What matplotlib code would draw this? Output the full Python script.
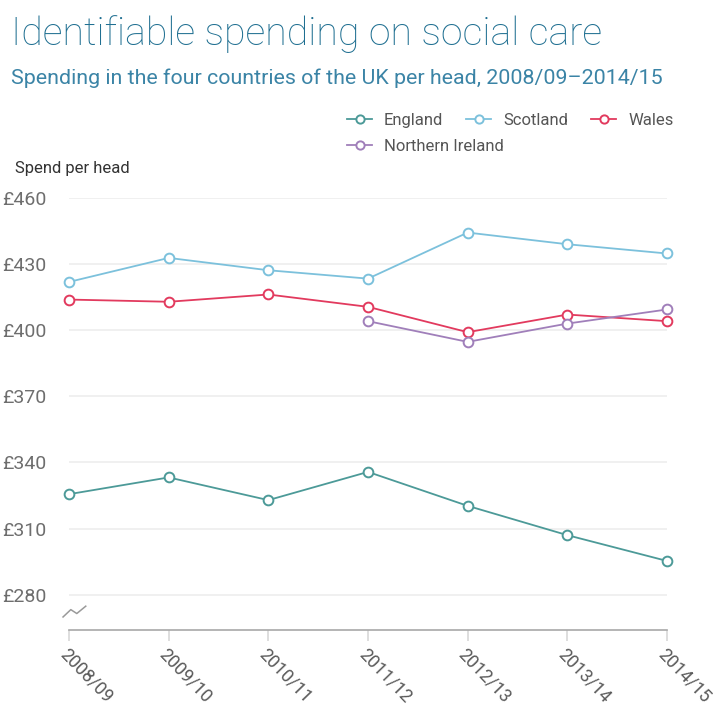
import matplotlib
matplotlib.use("Agg")
import matplotlib.pyplot as plt

plt.rcParams["font.family"] = ["Roboto", "DejaVu Sans"]

years = ["2008/09", "2009/10", "2010/11", "2011/12", "2012/13", "2013/14", "2014/15"]

england = [325.6, 333.2, 322.9, 335.7, 320.3, 307.0, 295.3]
scotland = [421.9, 432.8, 427.2, 423.4, 444.3, 439.0, 434.8]
wales = [413.9, 412.9, 416.2, 410.6, 399.1, 407.1, 404.1]
# Northern Ireland only reported from 2011/12
ni_years = ["2011/12", "2012/13", "2013/14", "2014/15"]
northern_ireland = [404.1, 394.7, 403.0, 409.4]

y_ticks = [280, 310, 340, 370, 400, 430, 460]

series = [
    ("England", years, england, "#4c9a98"),
    ("Scotland", years, scotland, "#7cc1dc"),
    ("Wales", years, wales, "#e23a5e"),
    ("Northern Ireland", ni_years, northern_ireland, "#a07fba"),
]

fig = plt.figure(figsize=(7.13, 7.07), dpi=100)
ax = fig.add_axes([0.0968, 0.109, 0.8387, 0.611])

xpos = {y: i for i, y in enumerate(years)}
handles = {}
for name, xs, vals, col in series:
    h, = ax.plot([xpos[x] for x in xs], vals, color=col, lw=1.3,
                 marker="o", ms=7, mfc="white", mec=col, mew=1.4,
                 label=name, clip_on=False, zorder=3)
    handles[name] = h

ax.set_xlim(0, 6)
ax.set_ylim(264, 460)
ax.set_yticks(y_ticks)
ax.set_yticklabels([f"£{v}" for v in y_ticks])
ax.set_xticks(range(len(years)))
ax.set_xticklabels(years, rotation=-46, ha="left", va="top",
                   rotation_mode="anchor")

ax.grid(axis="y", color="#ececec", lw=1.1)
ax.set_axisbelow(True)
for s in ["top", "right", "left"]:
    ax.spines[s].set_visible(False)
ax.spines["bottom"].set_color("#a8a8a8")
ax.spines["bottom"].set_linewidth(1.2)
ax.tick_params(axis="y", length=0, pad=16, labelsize=14, labelcolor="#6e6e6e")
ax.tick_params(axis="x", length=8, color="#d8d8d8", width=1.2, pad=3,
               labelsize=12.8, labelcolor="#5a5a5a")

# broken-axis squiggle above the baseline
ax.plot([-0.01, 0.003, 0.013, 0.028], [0.030, 0.047, 0.038, 0.055],
        transform=ax.transAxes, color="#9a9a9a", lw=1.1, clip_on=False)

fig.text(0.015, 0.952, "Identifiable spending on social care",
         fontsize=28.3, color="#1f6f91", fontweight="light", va="center")
fig.text(0.016, 0.889, "Spending in the four countries of the UK per head, 2008/09\u20132014/15",
         fontsize=15.4, color="#3b84a6", va="center")
fig.text(0.021, 0.762, "Spend per head", fontsize=12, color="#333333",
         va="center")

# legend: first row England / Scotland / Wales, Northern Ireland below
leg_kw = dict(loc="upper left", frameon=False, fontsize=12,
              labelcolor="#555555", handlelength=1.5, handletextpad=0.7,
              columnspacing=1.4, borderaxespad=0, borderpad=0,
              markerscale=0.85)
fig.legend(handles=[handles[n] for n in ["England", "Scotland", "Wales"]],
           bbox_to_anchor=(0.487, 0.840), ncol=3, **leg_kw)
fig.legend(handles=[handles["Northern Ireland"]],
           bbox_to_anchor=(0.487, 0.803), ncol=1, **leg_kw)

fig.savefig("out.png", dpi=100)
